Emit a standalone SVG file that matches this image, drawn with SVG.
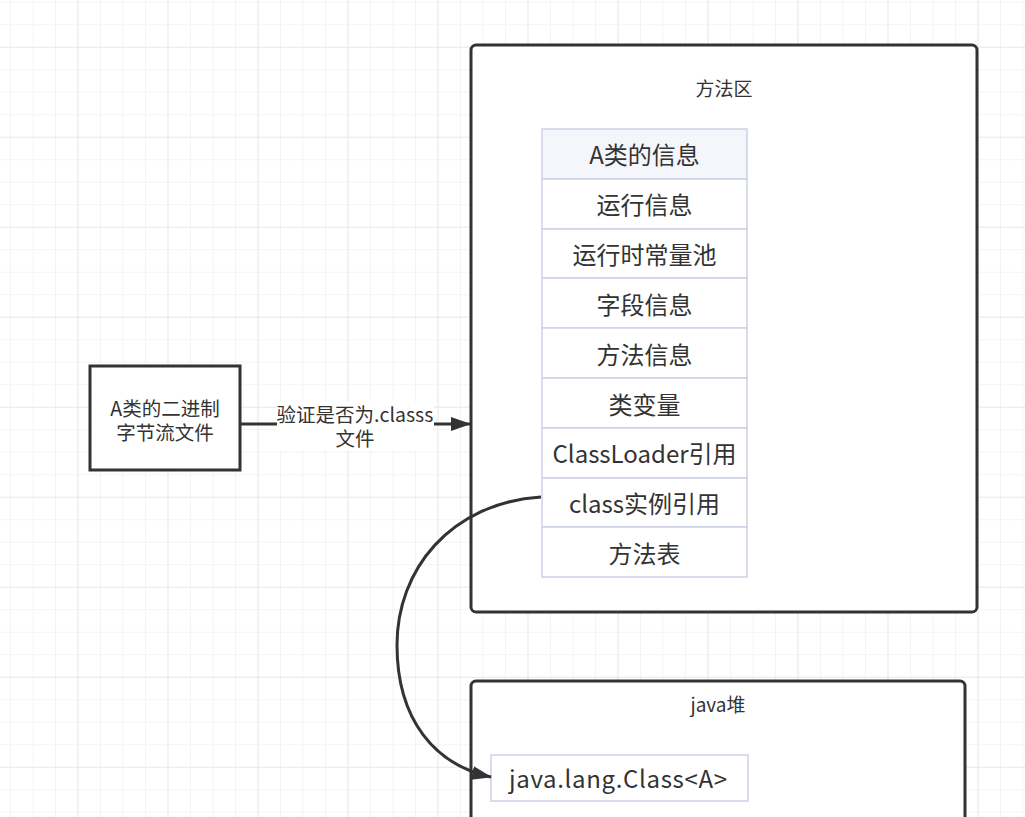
<svg xmlns="http://www.w3.org/2000/svg" width="1025" height="817" viewBox="0 0 1025 817">
<defs>
<pattern id="minor" x="10" y="1.7" width="22.5" height="22.5" patternUnits="userSpaceOnUse">
<path d="M0 0H22.5M0 0V22.5" fill="none" stroke="#f1f1f1" stroke-width="1.5"/>
</pattern>
<pattern id="major" x="-12.5" y="-43.3" width="90" height="90" patternUnits="userSpaceOnUse">
<path d="M0 0H90M0 0V90" fill="none" stroke="#e6e6e6" stroke-width="1.5"/>
</pattern>
<marker id="arr" viewBox="0 0 20 14" refX="19" refY="7" markerWidth="20" markerHeight="14" markerUnits="userSpaceOnUse" orient="auto">
<path d="M0 0L20 7L0 14Z" fill="#333"/>
</marker>
<style>
text{font-family:"Noto Sans CJK SC","Microsoft YaHei","Liberation Sans",sans-serif;fill:#333;text-anchor:middle;dominant-baseline:central}
.box{fill:#fff;stroke:#333;stroke-width:3}
.cell{fill:#fff;stroke:#ccd2e6;stroke-width:1.5}
.hdr{fill:#f5f6fb}
.t{font-size:24px}
.s{font-size:19.5px}
.m{font-size:19px}
.edge{fill:none;stroke:#333;stroke-width:3}
</style>
</defs>
<rect width="1025" height="817" fill="#fff"/>
<rect width="1025" height="817" fill="url(#minor)"/>
<rect width="1025" height="817" fill="url(#major)"/>

<g id="node-binary">
<rect class="box" x="90" y="366" width="150" height="104"/>
<text class="s" x="165" y="407">A类的二进制</text>
<text class="s" x="165" y="431">字节流文件</text>
</g>

<g id="node-method-area">
<rect class="box" x="471" y="45" width="506" height="567" rx="5"/>
<text class="m" x="724" y="87">方法区</text>
</g>

<g id="node-a-class-info">
<rect class="cell hdr" x="542" y="129" width="205" height="50"/>
<text class="t" x="644.5" y="153">A类的信息</text>
<rect class="cell" x="542" y="179" width="205" height="50"/>
<text class="t" x="644.5" y="203">运行信息</text>
<rect class="cell" x="542" y="229" width="205" height="49"/>
<text class="t" x="644.5" y="253">运行时常量池</text>
<rect class="cell" x="542" y="278" width="205" height="50"/>
<text class="t" x="644.5" y="303">字段信息</text>
<rect class="cell" x="542" y="328" width="205" height="50"/>
<text class="t" x="644.5" y="353">方法信息</text>
<rect class="cell" x="542" y="378" width="205" height="50"/>
<text class="t" x="644.5" y="403">类变量</text>
<rect class="cell" x="542" y="428" width="205" height="50"/>
<text class="t" x="644.5" y="452">ClassLoader引用</text>
<rect class="cell" x="542" y="478" width="205" height="49"/>
<text class="t" x="644.5" y="502">class实例引用</text>
<rect class="cell" x="542" y="527" width="205" height="50"/>
<text class="t" x="644.5" y="552">方法表</text>
</g>

<g id="node-java-heap">
<rect class="box" x="471" y="681" width="494" height="160" rx="5"/>
<text class="m" x="718" y="703">java堆</text>
</g>

<g id="node-class-object">
<rect class="cell" x="491" y="755" width="257" height="46"/>
<text class="t" x="618" y="777" textLength="218" lengthAdjust="spacing">java.lang.Class&lt;A&gt;</text>
</g>

<g id="connectors">
<path class="edge" d="M240 424H470" marker-end="url(#arr)"/>
<rect x="277" y="402" width="157" height="48" fill="#fff"/>
<text class="s" x="355" y="413">验证是否为.classs</text>
<text class="s" x="355" y="437">文件</text>
<path class="edge" d="M541 497C450 503 397 570 397 645C397 720 435 765 491 777" marker-end="url(#arr)"/>
</g>
</svg>
